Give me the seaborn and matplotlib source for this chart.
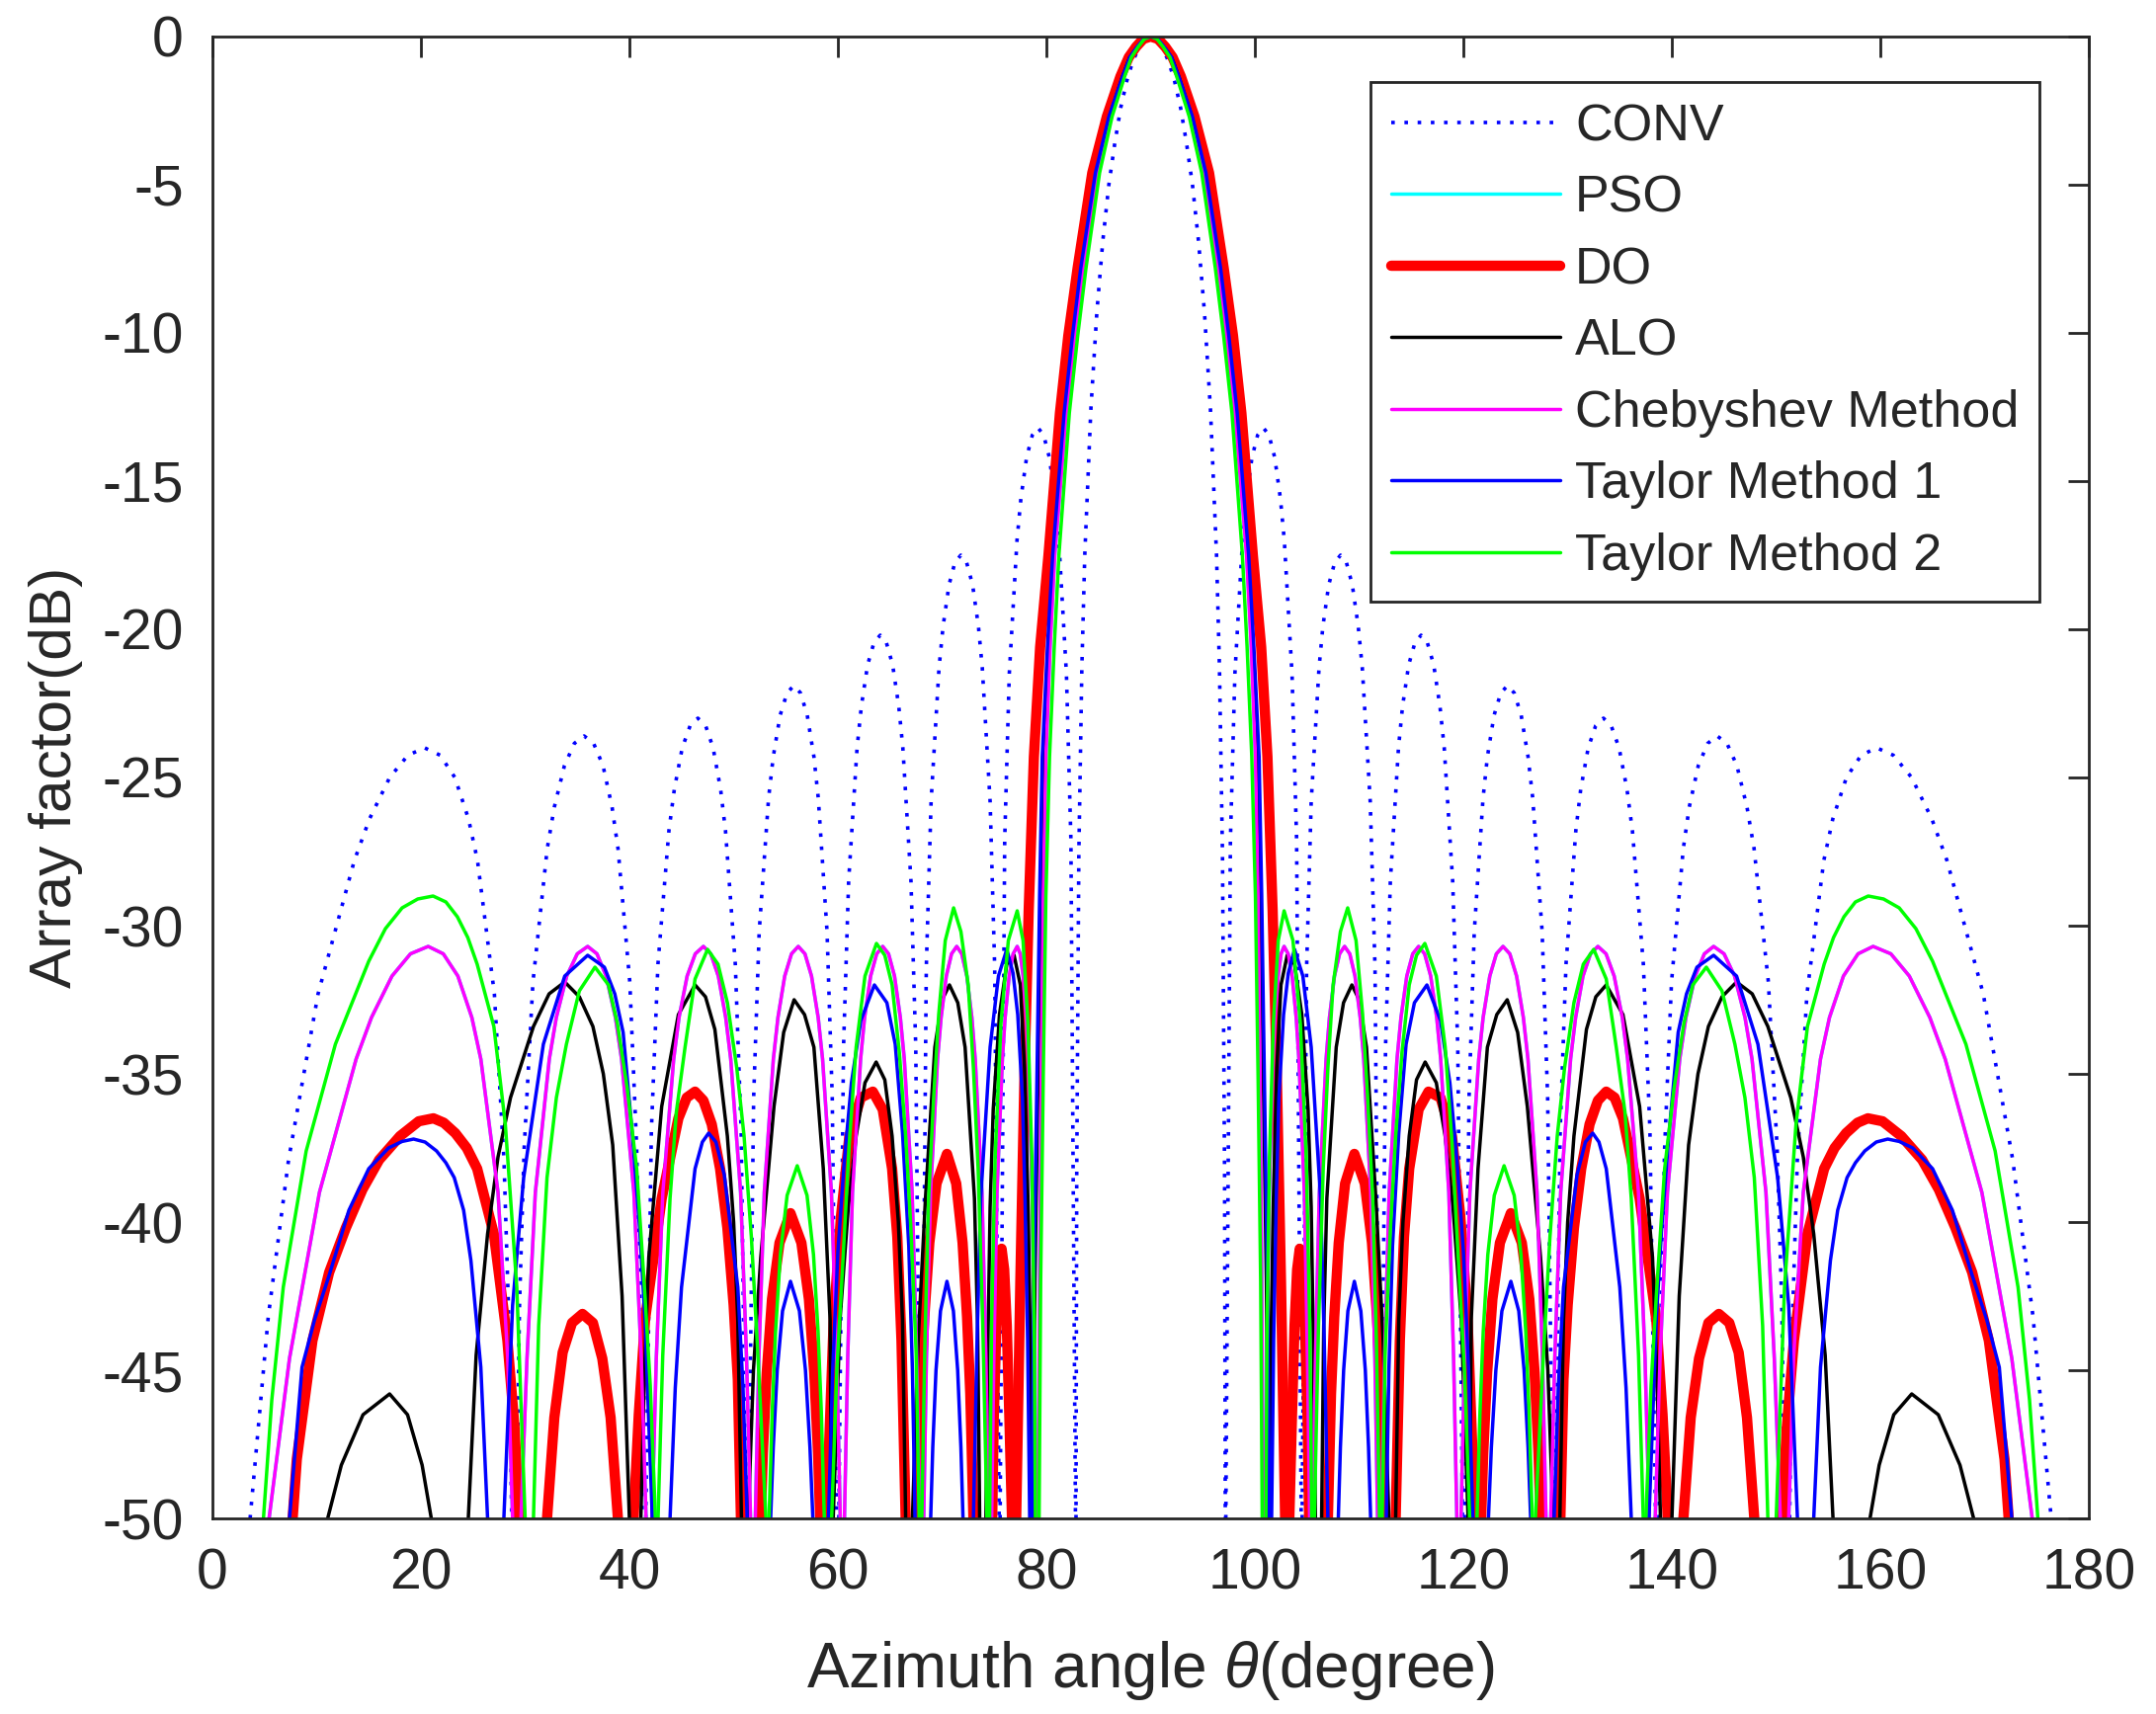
import numpy as np
import pandas as pd
import matplotlib
matplotlib.use("Agg")
import matplotlib.pyplot as plt
from matplotlib.lines import Line2D
import seaborn as sns

# ---------------- data, one list per lobe ----------------
conv_theta = [
    [3.62, 5.36, 7.31, 10.14, 13.62, 15.07, 17.01, 18.76, 20.36, 21.85, 23.26, 24.57, 25.43, 27.05, 27.97, 28.43, 28.71],
    [29.18, 29.46, 29.91, 30.75, 32.12, 32.8, 33.77, 34.72, 35.66, 36.57, 37.47, 38.34, 38.91, 40.04, 40.70, 41.03, 41.24],
    [41.57, 42.11, 42.74, 43.79, 44.31, 45.07, 45.83, 46.57, 47.31, 48.03, 48.75, 49.22, 50.16, 50.72, 51.19],
    [51.43, 51.92, 52.45, 53.35, 53.80, 54.46, 55.12, 55.77, 56.42, 57.06, 57.70, 58.12, 58.96, 59.46, 59.90],
    [60.09, 60.54, 61.03, 61.84, 62.25, 62.85, 63.46, 64.06, 64.65, 65.25, 65.84, 66.23, 67.01, 67.47, 67.89],
    [68.04, 68.48, 68.94, 69.70, 70.09, 70.66, 71.22, 71.79, 72.35, 72.92, 73.48, 73.85, 74.60, 75.04, 75.47],
    [75.56, 76.00, 76.44, 77.18, 77.55, 78.10, 78.65, 79.19, 79.74, 80.28, 80.83, 81.19, 81.92, 82.35, 82.79],
    [82.84, 82.91, 83.11, 83.40, 83.68, 84.26, 84.84, 85.41, 85.99, 86.56, 87.13, 87.71, 88.28, 88.85, 89.43, 90.0,
     90.57, 91.15, 91.72, 92.29, 92.87, 93.44, 94.01, 94.59, 95.16, 95.74, 96.32, 96.60, 96.89, 97.09, 97.16],
    [97.21, 97.65, 98.08, 98.81, 99.17, 99.72, 100.26, 100.81, 101.35, 101.90, 102.45, 102.82, 103.56, 104.00, 104.44],
    [104.53, 104.96, 105.40, 106.15, 106.52, 107.08, 107.65, 108.21, 108.78, 109.34, 109.91, 110.30, 111.06, 111.52, 111.96],
    [112.11, 112.53, 112.99, 113.77, 114.16, 114.75, 115.35, 115.94, 116.54, 117.15, 117.75, 118.16, 118.97, 119.46, 119.91],
    [120.10, 120.54, 121.04, 121.88, 122.30, 122.94, 123.58, 124.23, 124.88, 125.54, 126.20, 126.65, 127.55, 128.08, 128.57],
    [128.81, 129.28, 129.84, 130.78, 131.25, 131.97, 132.69, 133.43, 134.17, 134.93, 135.69, 136.21, 137.26, 137.89, 138.43],
    [138.76, 138.97, 139.30, 139.96, 141.09, 141.66, 142.53, 143.43, 144.34, 145.28, 146.23, 147.2, 147.88, 149.25, 150.09, 150.54, 150.82],
    [151.29, 151.57, 152.03, 152.95, 154.57, 155.43, 156.74, 158.15, 159.64, 161.24, 162.99, 164.93, 166.38, 169.86, 172.69, 174.64, 176.38],
]
conv_af = [
    [-50, -43.2, -37.9, -32.3, -27.8, -26.4, -25.0, -24.25, -24.0, -24.25, -25.0, -26.4, -27.8, -32.3, -37.9, -43.2, -50],
    [-50, -42.8, -37.5, -31.9, -27.4, -26.0, -24.6, -23.85, -23.6, -23.85, -24.6, -26.0, -27.4, -31.9, -37.5, -42.8, -50],
    [-50, -36.9, -31.3, -26.8, -25.4, -24.0, -23.25, -23.0, -23.25, -24.0, -25.4, -26.8, -31.3, -36.9, -50],
    [-50, -35.8, -30.2, -25.7, -24.3, -22.9, -22.15, -21.9, -22.15, -22.9, -24.3, -25.7, -30.2, -35.8, -50],
    [-50, -34.1, -28.5, -24.0, -22.6, -21.2, -20.45, -20.2, -20.45, -21.2, -22.6, -24.0, -28.5, -34.1, -50],
    [-50, -31.4, -25.8, -21.3, -19.9, -18.5, -17.75, -17.5, -17.75, -18.5, -19.9, -21.3, -25.8, -31.4, -50],
    [-50, -27.1, -21.5, -17.0, -15.6, -14.2, -13.45, -13.2, -13.45, -14.2, -15.6, -17.0, -21.5, -27.1, -50],
    [-50, -38.3, -27.6, -21.3, -17.5, -12.6, -9.3, -6.9, -5.0, -3.6, -2.4, -1.5, -0.84, -0.4, -0.09, 0,
     -0.09, -0.4, -0.84, -1.5, -2.4, -3.6, -5.0, -6.9, -9.3, -12.6, -17.5, -21.3, -27.6, -38.3, -50],
    [-50, -27.1, -21.5, -17.0, -15.6, -14.2, -13.45, -13.2, -13.45, -14.2, -15.6, -17.0, -21.5, -27.1, -50],
    [-50, -31.4, -25.8, -21.3, -19.9, -18.5, -17.75, -17.5, -17.75, -18.5, -19.9, -21.3, -25.8, -31.4, -50],
    [-50, -34.1, -28.5, -24.0, -22.6, -21.2, -20.45, -20.2, -20.45, -21.2, -22.6, -24.0, -28.5, -34.1, -50],
    [-50, -35.8, -30.2, -25.7, -24.3, -22.9, -22.15, -21.9, -22.15, -22.9, -24.3, -25.7, -30.2, -35.8, -50],
    [-50, -36.9, -31.3, -26.8, -25.4, -24.0, -23.25, -23.0, -23.25, -24.0, -25.4, -26.8, -31.3, -36.9, -50],
    [-50, -42.8, -37.5, -31.9, -27.4, -26.0, -24.6, -23.85, -23.6, -23.85, -24.6, -26.0, -27.4, -31.9, -37.5, -42.8, -50],
    [-50, -43.2, -37.9, -32.3, -27.8, -26.4, -25.0, -24.25, -24.0, -24.25, -25.0, -26.4, -27.8, -32.3, -37.9, -43.2, -50],
]

cheb_theta = [
    [5.44, 7.40, 10.27, 13.79, 15.26, 17.23, 19.0, 20.7, 22.15, 23.55, 24.89, 25.75, 27.4, 28.33, 28.8],
    [29.6, 30.18, 30.98, 32.32, 32.99, 33.99, 35.0, 36.0, 36.89, 37.77, 38.66, 39.25, 40.43, 41.14, 41.6],
    [42.17, 42.58, 43.21, 44.25, 44.76, 45.54, 46.32, 47.1, 47.81, 48.53, 49.24, 49.72, 50.67, 51.24, 51.62],
    [52.08, 52.42, 52.94, 53.81, 54.25, 54.90, 55.55, 56.2, 56.84, 57.47, 58.11, 58.53, 59.38, 59.89, 60.23],
    [60.63, 60.94, 61.40, 62.18, 62.56, 63.14, 63.72, 64.3, 64.86, 65.43, 65.99, 66.37, 67.12, 67.57, 67.87],
    [68.23, 68.49, 68.89, 69.56, 69.90, 70.40, 70.90, 71.4, 71.88, 72.37, 72.85, 73.17, 73.82, 74.20, 74.46],
    [74.75, 74.96, 75.26, 75.78, 76.04, 76.43, 76.81, 77.2, 77.49, 77.77, 78.06, 78.25, 78.63, 78.85, 79.0],
    [79.2, 79.35, 79.5, 79.7, 79.95, 80.35, 80.8, 81.9, 82.7, 83.5, 84.9, 86.15, 87.4, 88.05, 88.7, 89.35, 90.0,
     90.65, 91.3, 91.95, 92.6, 93.85, 95.1, 96.5, 97.3, 98.1, 99.2, 99.65, 100.05, 100.3, 100.5, 100.65, 100.8],
    [101.0, 101.15, 101.37, 101.75, 101.94, 102.23, 102.51, 102.8, 103.19, 103.57, 103.96, 104.22, 104.74, 105.04, 105.25],
    [105.54, 105.80, 106.18, 106.83, 107.15, 107.63, 108.12, 108.6, 109.10, 109.60, 110.10, 110.44, 111.11, 111.51, 111.77],
    [112.13, 112.43, 112.88, 113.63, 114.01, 114.57, 115.14, 115.7, 116.28, 116.86, 117.44, 117.82, 118.60, 119.06, 119.37],
    [119.77, 120.11, 120.62, 121.47, 121.89, 122.53, 123.16, 123.8, 124.45, 125.10, 125.75, 126.19, 127.06, 127.58, 127.92],
    [128.38, 128.76, 129.33, 130.28, 130.76, 131.47, 132.19, 132.9, 133.68, 134.46, 135.24, 135.75, 136.79, 137.42, 137.83],
    [138.4, 138.86, 139.57, 140.75, 141.34, 142.23, 143.11, 144.0, 145.0, 146.01, 147.01, 147.68, 149.02, 149.82, 150.4],
    [151.2, 151.67, 152.6, 154.25, 155.11, 156.45, 157.85, 159.3, 161.0, 162.77, 164.74, 166.21, 169.73, 172.60, 174.56],
]
cheb_side = [-50, -44.6, -39.0, -34.5, -33.1, -31.7, -30.95, -30.7, -30.95, -31.7, -33.1, -34.5, -39.0, -44.6, -50]
main_af = [-50, -42, -35, -29, -24.3, -20.6, -17.5, -12.7, -10.1, -7.8, -4.6, -2.7, -1.35, -0.7, -0.35, -0.08, 0,
           -0.08, -0.35, -0.7, -1.35, -2.7, -4.6, -7.8, -10.1, -12.7, -17.5, -20.6, -24.3, -29, -35, -42, -50]
cheb_af = [cheb_side] * 7 + [main_af] + [cheb_side] * 7

# PSO lies on top of the Chebyshev pattern in the reference
pso_theta = cheb_theta
pso_af = cheb_af

tay1_theta = [
    [7.4, 8.6, 9.8, 11.2, 13.1, 15.0, 16.9, 18.2, 19.3, 20.4, 21.5, 22.4, 23.2, 24.1, 24.8, 25.75, 26.4],
    [27.96, 28.8, 29.86, 31.75, 33.8, 36.0, 37.6, 38.6, 39.4, 40.3, 41.0, 41.5, 42.2],
    [43.9, 44.4, 45.0, 46.3, 47.0, 47.6, 48.3, 49.1, 50.4, 50.9, 51.3],
    [53.55, 53.80, 54.18, 54.69, 55.45, 56.31, 56.89, 57.32, 57.6],
    [59.1, 59.5, 60.0, 60.6, 61.3, 62.2, 63.5, 64.7, 65.5, 66.2, 66.8, 67.15, 67.4],
    [68.9, 69.10, 69.41, 69.84, 70.46, 71.08, 71.49, 71.80, 72.0],
    [73.0, 73.35, 73.7, 74.6, 75.4, 76.2, 76.8, 77.25, 77.7, 77.95, 78.2, 78.4],
    [78.6, 78.8, 79.1, 79.35, 79.6, 80.1, 80.6, 81.7, 82.5, 83.3, 84.7, 86.0, 87.3, 88.0, 88.7, 89.35, 90.0,
     90.65, 91.3, 92.0, 92.7, 94.0, 95.3, 96.7, 97.5, 98.3, 99.4, 99.9, 100.4, 100.65, 100.9, 101.2, 101.4],
    [101.6, 101.8, 102.05, 102.3, 102.75, 103.2, 103.8, 104.6, 105.4, 106.3, 106.65, 107.0],
    [108.0, 108.2, 108.51, 108.92, 109.54, 110.16, 110.59, 110.90, 111.1],
    [112.6, 112.85, 113.2, 113.8, 114.5, 115.3, 116.5, 117.8, 118.7, 119.4, 120.0, 120.5, 120.9],
    [122.4, 122.68, 123.11, 123.69, 124.55, 125.31, 125.82, 126.20, 126.45],
    [128.7, 129.1, 129.6, 130.9, 131.7, 132.4, 133.0, 133.7, 135.0, 135.6, 136.1],
    [137.8, 138.5, 139.0, 139.7, 140.6, 141.4, 142.4, 144.0, 146.2, 148.25, 150.14, 151.2, 152.04],
    [153.6, 154.25, 155.2, 155.9, 156.8, 157.6, 158.5, 159.6, 160.7, 161.8, 163.1, 165.0, 166.9, 168.8, 170.2, 171.4, 172.6],
]
tay1_af = [
    [-50, -44.9, -43.3, -41.8, -39.6, -38.2, -37.5, -37.28, -37.2, -37.3, -37.6, -38.0, -38.5, -39.6, -41.3, -44.9, -50],
    [-50, -42.8, -38.5, -34.0, -31.7, -31.0, -31.4, -32.3, -33.6, -37.1, -40.3, -43.3, -50],
    [-50, -45.6, -42.2, -38.2, -37.3, -37.0, -37.3, -38.4, -42.2, -45.6, -50],
    [-50, -47.6, -45.0, -43.0, -42.0, -43.0, -45.0, -47.6, -50],
    [-50, -45.0, -41.0, -38.0, -35.3, -33.2, -32.0, -32.6, -34.0, -37.0, -40.8, -45.0, -50],
    [-50, -47.6, -45.0, -43.0, -42.0, -43.0, -45.0, -47.6, -50],
    [-50, -44.0, -39.2, -34.1, -31.7, -30.8, -31.6, -33.0, -35.8, -39.2, -44.0, -50],
    main_af,
    [-50, -44.0, -39.2, -35.8, -33.0, -31.6, -30.8, -31.7, -34.1, -39.2, -44.0, -50],
    [-50, -47.6, -45.0, -43.0, -42.0, -43.0, -45.0, -47.6, -50],
    [-50, -45.0, -40.8, -37.0, -34.0, -32.6, -32.0, -33.2, -35.3, -38.0, -41.0, -45.0, -50],
    [-50, -47.6, -45.0, -43.0, -42.0, -43.0, -45.0, -47.6, -50],
    [-50, -45.6, -42.2, -38.4, -37.3, -37.0, -37.3, -38.2, -42.2, -45.6, -50],
    [-50, -43.3, -40.3, -37.1, -33.6, -32.3, -31.4, -31.0, -31.7, -34.0, -38.5, -42.8, -50],
    [-50, -44.9, -41.3, -39.6, -38.5, -38.0, -37.6, -37.3, -37.2, -37.28, -37.5, -38.2, -39.6, -41.8, -43.3, -44.9, -50],
]

tay2_theta = [
    [4.9, 5.7, 6.8, 9.0, 11.8, 15.0, 16.6, 18.2, 19.7, 21.17, 22.4, 23.5, 24.5, 25.4, 27.0, 28.1, 29.2, 30.0],
    [30.8, 31.3, 32.1, 33.0, 33.96, 35.2, 36.7, 38.0, 38.85, 39.8, 40.7, 41.5, 42.0, 42.5],
    [42.75, 43.2, 43.9, 44.5, 45.34, 46.3, 47.5, 48.5, 49.4, 50.3, 51.0, 51.7, 52.3, 53.1],
    [53.4, 53.70, 54.02, 54.48, 55.13, 56.1, 57.04, 57.66, 58.10, 58.41, 58.7],
    [59.4, 59.9, 60.5, 61.1, 61.75, 62.6, 63.7, 64.5, 65.2, 65.9, 66.5, 67.0, 67.5, 67.8],
    [68.05, 68.35, 68.7, 69.2, 69.67, 70.3, 71.1, 71.8, 72.5, 73.0, 73.45, 73.9, 74.3],
    [74.55, 74.74, 75.08, 75.64, 76.35, 77.2, 77.76, 78.23, 78.60, 78.83, 78.95],
    [79.3, 79.45, 79.7, 79.95, 80.3, 80.75, 81.2, 82.2, 83.0, 83.8, 85.1, 86.3, 87.5, 88.15, 88.8, 89.4, 90.0,
     90.6, 91.2, 91.85, 92.5, 93.7, 94.9, 96.2, 97.0, 97.8, 98.8, 99.25, 99.7, 100.05, 100.3, 100.55, 100.7],
    [101.05, 101.17, 101.40, 101.77, 102.24, 102.8, 103.65, 104.36, 104.92, 105.26, 105.45],
    [105.7, 106.1, 106.55, 107.0, 107.5, 108.2, 108.9, 109.7, 110.33, 110.8, 111.3, 111.65, 111.95],
    [112.2, 112.5, 113.0, 113.5, 114.1, 114.8, 115.5, 116.3, 117.4, 118.25, 118.9, 119.5, 120.1, 120.6],
    [121.3, 121.59, 121.90, 122.34, 122.96, 123.9, 124.87, 125.52, 125.98, 126.30, 126.6],
    [126.9, 127.7, 128.3, 129.0, 129.7, 130.6, 131.5, 132.5, 133.7, 134.66, 135.5, 136.1, 136.8, 137.25],
    [137.5, 138.0, 138.5, 139.3, 140.2, 141.15, 142.0, 143.3, 144.8, 146.04, 147.0, 147.9, 148.7, 149.2],
    [150.0, 150.8, 151.9, 153.0, 154.6, 155.5, 156.5, 157.6, 158.83, 160.3, 161.8, 163.4, 165.0, 168.2, 171.0, 173.2, 174.3, 175.1],
]
tay2_af = [
    [-50, -46.0, -42.2, -37.6, -34.0, -31.2, -30.1, -29.4, -29.1, -29.0, -29.2, -29.7, -30.4, -31.3, -33.4, -36.7, -42.2, -50],
    [-50, -43.5, -38.5, -35.8, -34.0, -32.2, -31.4, -32.0, -33.3, -35.5, -38.2, -42.5, -45.5, -50],
    [-50, -44.5, -39.2, -36.3, -34.1, -31.8, -30.8, -31.3, -32.6, -34.8, -37.1, -40.5, -44.3, -50],
    [-50, -46.4, -43.7, -41.1, -39.1, -38.1, -39.1, -41.1, -43.7, -46.4, -50],
    [-50, -45.0, -41.2, -37.3, -34.1, -31.7, -30.6, -31.0, -32.0, -34.3, -37.1, -40.2, -44.3, -50],
    [-50, -44.0, -39.2, -35.7, -33.0, -30.5, -29.4, -30.2, -32.0, -34.8, -38.2, -43.5, -50],
    [-50, -43.4, -37.8, -33.3, -30.5, -29.5, -30.5, -33.3, -37.8, -43.4, -50],
    main_af,
    [-50, -43.4, -37.8, -33.3, -30.5, -29.5, -30.5, -33.3, -37.8, -43.4, -50],
    [-50, -43.5, -38.2, -34.8, -32.0, -30.2, -29.4, -30.5, -33.0, -35.7, -39.2, -44.0, -50],
    [-50, -44.3, -40.2, -37.1, -34.3, -32.0, -31.0, -30.6, -31.7, -34.1, -37.3, -41.2, -45.0, -50],
    [-50, -46.4, -43.7, -41.1, -39.1, -38.1, -39.1, -41.1, -43.7, -46.4, -50],
    [-50, -44.3, -40.5, -37.1, -34.8, -32.6, -31.3, -30.8, -31.8, -34.1, -36.3, -39.2, -44.5, -50],
    [-50, -45.5, -42.5, -38.2, -35.5, -33.3, -32.0, -31.4, -32.2, -34.0, -35.8, -38.5, -43.5, -50],
    [-50, -42.2, -36.7, -33.4, -31.3, -30.4, -29.7, -29.2, -29.0, -29.1, -29.4, -30.1, -31.2, -34.0, -37.6, -42.2, -46.0, -50],
]

alo_theta = [
    [11.06, 12.37, 14.45, 17.0, 18.72, 20.12, 21.0],
    [24.55, 25.3, 26.4, 27.4, 28.6, 30.8, 32.3, 33.8, 35.2, 36.5, 37.5, 38.4, 39.3, 40.0],
    [41.1, 41.45, 41.86, 43.1, 44.7, 46.3, 47.3, 48.2, 49.4, 50.0, 50.4, 50.75],
    [51.4, 51.9, 52.6, 53.87, 54.8, 55.8, 56.8, 57.7, 58.6, 59.25, 59.4],
    [59.55, 60.2, 61.0, 61.75, 62.6, 63.67, 64.5, 65.2, 65.8, 66.2, 66.5],
    [67.15, 67.7, 68.4, 69.3, 70.0, 70.7, 71.5, 72.2, 73.1, 73.4, 73.6],
    [74.2, 74.4, 74.6, 74.9, 75.5, 76.2, 76.9, 77.5, 77.9, 78.25, 78.45, 78.55],
    [78.7, 78.9, 79.2, 79.45, 79.7, 80.2, 80.7, 81.8, 82.6, 83.4, 84.8, 86.05, 87.3, 88.0, 88.7, 89.35, 90.0,
     90.65, 91.3, 92.0, 92.7, 93.95, 95.2, 96.6, 97.4, 98.2, 99.3, 99.8, 100.3, 100.55, 100.8, 101.1, 101.3],
    [101.45, 101.55, 101.75, 102.1, 102.5, 103.1, 103.8, 104.5, 105.1, 105.4, 105.6, 105.8],
    [106.4, 106.6, 106.9, 107.8, 108.5, 109.3, 110.0, 110.7, 111.6, 112.3, 112.85],
    [113.5, 113.8, 114.2, 114.8, 115.5, 116.33, 117.4, 118.25, 119.0, 119.8, 120.45],
    [120.6, 120.75, 121.4, 122.3, 123.2, 124.2, 125.2, 126.13, 127.4, 128.1, 128.6],
    [129.25, 129.6, 130.0, 130.6, 131.8, 132.7, 133.7, 135.3, 136.9, 138.14, 138.55, 138.9],
    [140.0, 140.7, 141.6, 142.5, 143.5, 144.8, 146.2, 147.7, 149.2, 151.4, 152.6, 153.6, 154.7, 155.45],
    [159.0, 159.88, 161.28, 163.0, 165.55, 167.63, 168.94],
]
alo_af = [
    [-50, -48.2, -46.5, -45.8, -46.5, -48.2, -50],
    [-50, -44.5, -40.4, -37.8, -35.8, -33.4, -32.3, -31.9, -32.4, -33.4, -35.0, -37.4, -42.5, -50],
    [-50, -45.0, -41.2, -36.1, -33.0, -32.0, -32.4, -33.5, -37.1, -40.0, -43.3, -50],
    [-50, -45.0, -41.2, -36.1, -33.6, -32.5, -33.0, -34.1, -38.2, -43.3, -50],
    [-50, -43.3, -39.5, -37.1, -35.3, -34.6, -35.2, -37.1, -40.0, -43.3, -50],
    [-50, -44.0, -39.2, -34.1, -32.5, -32.0, -32.6, -34.1, -39.2, -43.5, -50],
    [-50, -44.0, -39.5, -36.2, -33.0, -31.3, -31.0, -32.0, -34.8, -39.5, -44.0, -50],
    main_af,
    [-50, -44.0, -39.5, -34.8, -32.0, -31.0, -31.3, -33.0, -36.2, -39.5, -44.0, -50],
    [-50, -43.5, -39.2, -34.1, -32.6, -32.0, -32.5, -34.1, -39.2, -44.0, -50],
    [-50, -43.3, -40.0, -37.1, -35.2, -34.6, -35.3, -37.1, -39.5, -43.3, -50],
    [-50, -43.3, -38.2, -34.1, -33.0, -32.5, -33.6, -36.1, -41.2, -45.0, -50],
    [-50, -43.3, -40.0, -37.1, -33.5, -32.4, -32.0, -33.0, -36.1, -41.2, -45.0, -50],
    [-50, -42.5, -37.4, -35.0, -33.4, -32.4, -31.9, -32.3, -33.4, -35.8, -37.8, -40.4, -44.5, -50],
    [-50, -48.2, -46.5, -45.8, -46.5, -48.2, -50],
]

do_theta = [
    [7.7, 8.1, 9.6, 11.2, 12.8, 14.4, 16.0, 18.0, 19.8, 21.2, 22.2, 23.3, 24.4, 25.4, 27.0, 28.3, 29.0, 29.4],
    [32.1, 32.8, 33.6, 34.5, 35.5, 36.5, 37.4, 38.2, 38.9],
    [40.4, 40.9, 41.5, 43.1, 44.7, 45.5, 46.3, 47.1, 47.9, 48.7, 49.4, 50.0, 50.4, 50.7],
    [52.6, 52.80, 53.17, 53.68, 54.40, 55.45, 56.50, 57.22, 57.73, 58.10, 58.3],
    [58.9, 59.6, 60.3, 61.1, 62.2, 63.35, 64.3, 65.2, 65.7, 66.1, 66.5],
    [67.6, 67.94, 68.29, 68.77, 69.46, 70.46, 71.35, 71.96, 72.39, 72.70, 73.0],
    [74.8, 74.95, 75.2, 75.45, 75.7, 75.95, 76.2, 76.45, 76.7],
    [77.1, 77.5, 77.9, 78.3, 78.8, 79.4, 80.2, 81.3, 82.1, 83.0, 84.4, 85.8, 87.1, 87.9, 88.6, 89.3, 90.0,
     90.7, 91.4, 92.1, 92.9, 94.2, 95.6, 97.0, 97.9, 98.7, 99.8, 100.6, 101.2, 101.7, 102.1, 102.5, 102.9],
    [103.3, 103.55, 103.8, 104.05, 104.3, 104.55, 104.8, 105.05, 105.2],
    [107.0, 107.30, 107.61, 108.04, 108.65, 109.54, 110.54, 111.23, 111.71, 112.06, 112.4],
    [113.5, 113.9, 114.3, 114.8, 115.7, 116.65, 117.8, 118.9, 119.7, 120.4, 121.1],
    [121.7, 121.90, 122.27, 122.78, 123.50, 124.55, 125.60, 126.32, 126.83, 127.20, 127.4],
    [129.3, 129.6, 130.0, 130.6, 131.3, 132.1, 132.9, 133.7, 134.5, 135.3, 136.9, 138.5, 139.1, 139.6],
    [141.1, 141.8, 142.6, 143.5, 144.5, 145.5, 146.4, 147.2, 147.9],
    [150.6, 151.0, 151.7, 153.0, 154.6, 155.6, 156.7, 157.8, 158.8, 160.2, 162.0, 164.0, 165.6, 167.2, 168.8, 170.4, 171.9, 172.3],
]
do_af = [
    [-50, -48.0, -44.0, -41.7, -40.2, -38.9, -37.9, -37.1, -36.6, -36.5, -36.65, -37.0, -37.5, -38.2, -40.4, -44.0, -47.0, -50],
    [-50, -46.6, -44.4, -43.4, -43.1, -43.4, -44.6, -46.6, -50],
    [-50, -46.5, -43.3, -39.2, -36.5, -35.8, -35.6, -35.9, -36.7, -38.2, -40.2, -42.8, -45.3, -50],
    [-50, -47.8, -45.1, -42.6, -40.7, -39.7, -40.7, -42.6, -45.1, -47.8, -50],
    [-50, -43.3, -39.8, -37.1, -35.8, -35.6, -36.2, -38.2, -40.5, -44.0, -50],
    [-50, -45.8, -43.2, -40.7, -38.7, -37.7, -38.7, -40.7, -43.2, -45.8, -50],
    [-50, -46.6, -43.5, -41.6, -40.9, -41.6, -43.5, -46.6, -50],
    [-50, -42, -35, -29.5, -24.3, -20.6, -17.5, -12.7, -10.1, -7.8, -4.6, -2.7, -1.35, -0.7, -0.35, -0.08, 0,
     -0.08, -0.35, -0.7, -1.35, -2.7, -4.6, -7.8, -10.1, -12.7, -17.5, -20.6, -24.3, -29.5, -35, -42, -50],
    [-50, -46.6, -43.5, -41.6, -40.9, -41.6, -43.5, -46.6, -50],
    [-50, -45.8, -43.2, -40.7, -38.7, -37.7, -38.7, -40.7, -43.2, -45.8, -50],
    [-50, -44.0, -40.5, -38.2, -36.2, -35.6, -35.8, -37.1, -39.8, -43.3, -50],
    [-50, -47.8, -45.1, -42.6, -40.7, -39.7, -40.7, -42.6, -45.1, -47.8, -50],
    [-50, -45.3, -42.8, -40.2, -38.2, -36.7, -35.9, -35.6, -35.8, -36.5, -39.2, -43.3, -46.5, -50],
    [-50, -46.6, -44.6, -43.4, -43.1, -43.4, -44.4, -46.6, -50],
    [-50, -47.0, -44.0, -40.4, -38.2, -37.5, -37.0, -36.65, -36.5, -36.6, -37.1, -37.9, -38.9, -40.2, -41.7, -44.0, -48.0, -50],
]

series_names = ["CONV", "PSO", "DO", "ALO", "Chebyshev Method", "Taylor Method 1", "Taylor Method 2"]
series_theta = [conv_theta, pso_theta, do_theta, alo_theta, cheb_theta, tay1_theta, tay2_theta]
series_af = [conv_af, pso_af, do_af, alo_af, cheb_af, tay1_af, tay2_af]
x_ticks = [0, 20, 40, 60, 80, 100, 120, 140, 160, 180]
y_ticks = [-50, -45, -40, -35, -30, -25, -20, -15, -10, -5, 0]

# ---------------- styles ----------------
styles = {
    "CONV": dict(color="#0000FF", linewidth=2.6, linestyle=(0, (1, 2.7))),
    "PSO": dict(color="#00FFFF", linewidth=2.5, linestyle="-"),
    "DO": dict(color="#FF0000", linewidth=7.5, linestyle="-"),
    "ALO": dict(color="#000000", linewidth=2.5, linestyle="-"),
    "Chebyshev Method": dict(color="#FF00FF", linewidth=2.5, linestyle="-"),
    "Taylor Method 1": dict(color="#0000FF", linewidth=2.5, linestyle="-"),
    "Taylor Method 2": dict(color="#00FF00", linewidth=2.5, linestyle="-"),
}

rows = []
for name, th_lobes, af_lobes in zip(series_names, series_theta, series_af):
    for k, (th, af) in enumerate(zip(th_lobes, af_lobes)):
        assert len(th) == len(af), (name, k, len(th), len(af))
        for t, a in zip(th, af):
            rows.append((name, k, t, a))
df = pd.DataFrame(rows, columns=["series", "lobe", "theta", "af"])

sns.set_theme(style="white")
plt.rcParams["font.family"] = ["Liberation Sans", "DejaVu Sans"]
plt.rcParams["axes.unicode_minus"] = False
plt.rcParams["mathtext.fontset"] = "custom"
plt.rcParams["mathtext.rm"] = "Liberation Sans"
plt.rcParams["mathtext.it"] = "Liberation Sans:italic"

axc = "#262626"
fig = plt.figure(figsize=(21.82, 17.35), dpi=100)
ax = fig.add_axes([0.0985, 0.1141, 0.8704, 0.8646])

for name in series_names:
    sub = df[df["series"] == name]
    sns.lineplot(data=sub, x="theta", y="af", units="lobe", estimator=None, sort=False,
                 legend=False, ax=ax, **styles[name])

ax.set_xlim(0, 180)
ax.set_ylim(-50, 0)
ax.set_xticks(x_ticks)
ax.set_yticks(y_ticks)
ax.tick_params(axis="both", direction="in", length=15, width=2, top=True, right=True,
               labelsize=41, pad=21, color=axc, labelcolor=axc)
for sp in ax.spines.values():
    sp.set_visible(True)
    sp.set_linewidth(2)
    sp.set_color(axc)
ax.set_xlabel(r"Azimuth angle $\theta$(degree)", fontsize=46, color=axc, labelpad=28)
ax.set_ylabel("Array factor(dB)", fontsize=43.5, color=axc, labelpad=14)

handles = [Line2D([], [], **styles[n]) for n in series_names]
leg = ax.legend(handles, series_names, loc="upper right", bbox_to_anchor=(0.9737, 0.969),
                borderaxespad=0, fontsize=37.5, frameon=True, fancybox=False,
                edgecolor=axc, framealpha=1, handlelength=3.3, handletextpad=0.28,
                labelspacing=0.45, borderpad=0.4)
leg.get_frame().set_linewidth(2)

fig.savefig("out.png", dpi=100, facecolor="white")
